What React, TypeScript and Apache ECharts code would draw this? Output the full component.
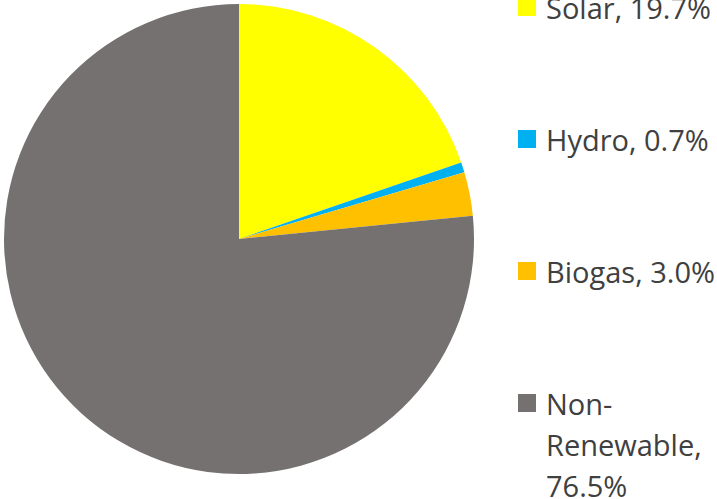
import React, { useEffect, useRef } from "react";
import * as echarts from "echarts";

const categories = ["Solar", "Hydro", "Biogas", "Non-Renewable"];
const legendNames = ["Solar", "Hydro", "Biogas", "Non-\nRenewable"];
const shares = [19.7, 0.7, 3.0, 76.5];
const colors = ["#FFFF00", "#00B0F0", "#FFC000", "#767171"];

export default function App() {
  const ref = useRef<HTMLDivElement>(null);
  useEffect(() => {
    if (!ref.current) return;
    const chart = echarts.init(ref.current, null, { renderer: "svg" });
    const legendY = [7, 139, 271, 403];
    const graphic: any[] = [];
    categories.forEach((c, i) => {
      graphic.push({
        type: "rect",
        shape: { x: 518, y: legendY[i] - 9, width: 18, height: 18 },
        style: { fill: colors[i] },
      });
      const label = `${legendNames[i]}, ${shares[i].toFixed(1)}%`.replace("Renewable, ", "Renewable,\n");
      graphic.push({
        type: "text",
        x: 546,
        y: legendY[i] - 20.5,
        style: {
          text: label,
          fill: "#404040",
          font: "29px 'Open Sans'",
          lineHeight: 41,
          verticalAlign: "top",
        },
      });
    });
    chart.setOption({
      animation: false,
      backgroundColor: "#ffffff",
      graphic,
      series: [
        {
          type: "pie",
          center: [239, 239],
          radius: 235,
          startAngle: 90,
          clockwise: true,
          label: { show: false },
          labelLine: { show: false },
          itemStyle: { borderWidth: 0 },
          emphasis: { disabled: true },
          data: categories.map((c, i) => ({
            name: c,
            value: shares[i],
            itemStyle: { color: colors[i] },
          })),
        },
      ],
    });
    return () => chart.dispose();
  }, []);
  return (
    <div
      ref={ref}
      style={{ position: "fixed", left: 0, top: 0, width: 717, height: 499 }}
    />
  );
}
